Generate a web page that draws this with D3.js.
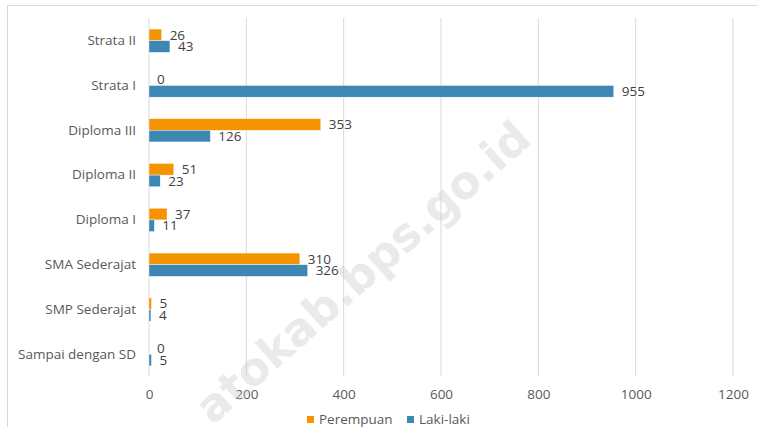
<!DOCTYPE html>
<html><head><meta charset="utf-8">
<script src="https://cdn.jsdelivr.net/npm/d3@7"></script>
<style>body{margin:0;background:#fff}svg{display:block}</style>
</head><body>
<svg id="c" width="757" height="427"></svg>
<script>
const categories = ["Strata II","Strata I","Diploma III","Diploma II","Diploma I","SMA Sederajat","SMP Sederajat","Sampai dengan SD"];
const perempuan = [26,0,353,51,37,310,5,0];
const lakiLaki = [43,955,126,23,11,326,4,5];
const seriesNames = ["Perempuan","Laki-laki"];
const xTicks = [0,200,400,600,800,1000,1200];

const colors = ["#F59300","#3D87B5"];
const font = "'Open Sans', sans-serif";
const fs = 13.5;
const svg = d3.select("#c");

svg.append("rect").attr("x",7.5).attr("y",5.5).attr("width",900).attr("height",600)
  .attr("fill","none").attr("stroke","#d9d9d9");

const x = d3.scaleLinear().domain([0,1200]).range([149,733]);
const y = d3.scaleBand().domain(categories).range([18.3,376.7]).paddingInner(0.48).paddingOuter(0.24);
const sub = d3.scaleBand().domain(seriesNames).range([0,y.bandwidth()]);

// gridlines
svg.append("g").selectAll("line").data(xTicks).join("line")
  .attr("x1",d=>x(d)).attr("x2",d=>x(d)).attr("y1",18).attr("y2",376)
  .attr("stroke","#d9d9d9").attr("stroke-width",1);

// x axis labels
const xAxis = d3.axisBottom(x).tickValues(xTicks).tickFormat(d3.format("d")).tickSize(0).tickPadding(0);
const gx = svg.append("g").attr("transform","translate(0,389)").call(xAxis);
gx.select(".domain").remove();
gx.selectAll("text").attr("font-family",font).attr("font-size",fs).attr("fill","#595959");

// y axis labels
const yAxis = d3.axisLeft(y).tickSize(0).tickPadding(0);
const gy = svg.append("g").attr("transform","translate(136,0)").call(yAxis);
gy.select(".domain").remove();
gy.selectAll("text").attr("font-family",font).attr("font-size",fs).attr("fill","#595959");

const data = [perempuan, lakiLaki];
data.forEach((vals,si)=>{
  const g = svg.append("g");
  g.selectAll("rect").data(vals).join("rect")
    .attr("x",x(0)).attr("y",(d,i)=>y(categories[i])+sub(seriesNames[si]))
    .attr("width",d=>x(d)-x(0)).attr("height",sub.bandwidth())
    .attr("fill",colors[si]).attr("stroke","#fff").attr("stroke-width",0.4);
  g.selectAll("text").data(vals).join("text")
    .attr("x",d=>x(d)+8).attr("y",(d,i)=>y(categories[i])+sub(seriesNames[si])+sub.bandwidth()/2)
    .attr("dy","0.35em").attr("font-family",font).attr("font-size",fs).attr("fill","#404040")
    .text(d=>d);
});

// legend
const legX = [307,407];
seriesNames.forEach((n,i)=>{
  svg.append("rect").attr("x",legX[i]).attr("y",416).attr("width",7).attr("height",7).attr("fill",colors[i]);
  svg.append("text").attr("x",legX[i]+12).attr("y",419.5).attr("dy","0.35em")
    .attr("font-family",font).attr("font-size",fs).attr("fill","#595959").text(n);
});

// watermark
svg.append("text").attr("transform","translate(523,130) rotate(-41.5)")
  .attr("text-anchor","end").attr("dy","0.35em")
  .attr("font-family","'DejaVu Sans', sans-serif").attr("font-weight","bold")
  .attr("font-size",45).attr("fill","#c8c8c8").attr("fill-opacity",0.4)
  .text("atokab.bps.go.id");
</script>
</body></html>
